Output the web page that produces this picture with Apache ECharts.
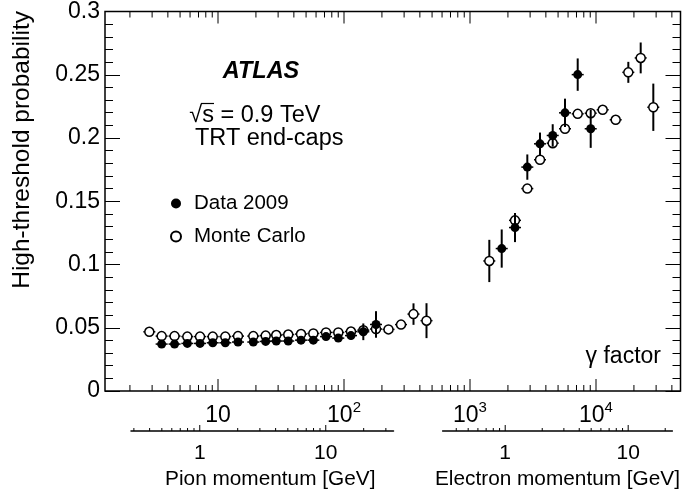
<!DOCTYPE html>
<html><head><meta charset="utf-8">
<script src="https://cdn.jsdelivr.net/npm/echarts@6/dist/echarts.min.js"></script>
<style>html,body{margin:0;padding:0;background:#fff}#c{width:682px;height:492px}</style>
</head><body><div id="c"></div>
<script>
const FONT = '"Liberation Sans", Arial, Helvetica, sans-serif';

// ---- Data 2009 (filled markers) ----
const dataGamma = [3.57, 4.52, 5.71, 7.20, 9.08, 11.43, 14.41, 19.06, 23.9, 29.0, 36.1, 45.6, 57.1, 72.0, 90.1, 113.6, 142.3, 179.5,
                   1785, 2276, 2850, 3594, 4533, 5675, 7157, 9077];
const dataProb  = [0.0371, 0.0371, 0.0376, 0.0376, 0.0381, 0.0381, 0.0387, 0.0387, 0.0392, 0.0395, 0.0395, 0.0402, 0.0402, 0.0430, 0.0418, 0.0438, 0.0468, 0.0526,
                   0.1126, 0.1292, 0.1770, 0.1954, 0.2020, 0.2199, 0.2501, 0.2073];
const dataErr   = [0.0012, 0.0012, 0.0012, 0.0012, 0.0012, 0.0012, 0.0012, 0.0012, 0.0013, 0.0013, 0.0014, 0.0015, 0.0016, 0.0018, 0.0020, 0.0030, 0.0066, 0.0105,
                   0.0151, 0.0115, 0.0100, 0.0089, 0.0089, 0.0112, 0.0128, 0.0151];

// ---- Monte Carlo (open markers) ----
const mcGamma = [2.85, 3.57, 4.52, 5.71, 7.20, 9.08, 11.43, 14.41, 19.06, 23.9, 29.0, 36.1, 45.6, 57.1, 72.0, 90.1, 113.6, 142.3, 179.5, 225.5, 283.5, 356.1, 451.6,
                 1423, 2276, 2850, 3594, 4533, 5675, 7157, 9077, 11300, 14330, 18050, 22630, 28500];
const mcProb  = [0.0468, 0.0434, 0.0434, 0.0430, 0.0430, 0.0430, 0.0430, 0.0434, 0.0434, 0.0438, 0.0442, 0.0446, 0.0450, 0.0455, 0.0463, 0.0463, 0.0470, 0.0481, 0.0490, 0.0487, 0.0525, 0.0608, 0.0556,
                 0.1028, 0.1349, 0.1600, 0.1828, 0.1959, 0.2073, 0.2191, 0.2196, 0.2223, 0.2144, 0.2519, 0.2633, 0.2243];
const mcErr   = [0.0008, 0.0008, 0.0008, 0.0008, 0.0008, 0.0008, 0.0008, 0.0008, 0.0008, 0.0008, 0.0008, 0.0009, 0.0010, 0.0010, 0.0012, 0.0013, 0.0015, 0.0018, 0.0020, 0.0025, 0.0030, 0.0085, 0.0138,
                 0.0167, 0.0040, 0.0030, 0.0030, 0.0030, 0.0030, 0.0030, 0.0030, 0.0030, 0.0036, 0.0083, 0.0122, 0.0187];

// ---- axis ticks / labels ----
const gammaMajor = [10, 100, 1000, 10000];
const gammaMajorLabels = ['10', '10{s|2}', '10{s|3}', '10{s|4}'];
const gammaMinor = [2,3,4,5,6,7,8,9, 20,30,40,50,60,70,80,90, 200,300,400,500,600,700,800,900,
                    2000,3000,4000,5000,6000,7000,8000,9000, 20000,30000,40000];
const pionMajor = [1, 10];
const pionMajorLabels = ['1', '10'];
const pionMinor = [0.3,0.4,0.5,0.6,0.7,0.8,0.9, 2,3,4,5,6,7,8,9, 20,30];
const elecMajor = [1, 10];
const elecMajorLabels = ['1', '10'];
const elecMinor = [0.4,0.5,0.6,0.7,0.8,0.9, 2,3,4,5,6,7,8,9, 20];

const yMin = 0, yMax = 0.3;

function errSeries(gam, val, err, z) {
  return {
    type: 'custom', xAxisIndex: 0, yAxisIndex: 0, z: z, silent: true,
    encode: {x: 0, y: 1},
    data: gam.map((g, i) => [g, val[i], err[i]]),
    renderItem: function (params, api) {
      const g = api.value(0), v = api.value(1), e = api.value(2);
      const p = api.coord([g, v]);
      const t = api.coord([g, v + e]);
      const b = api.coord([g, v - e]);
      return {type: 'group', children: [
        {type: 'line', shape: {x1: p[0], y1: t[1], x2: p[0], y2: b[1]}, style: {stroke: '#000', lineWidth: 2}},
        {type: 'line', shape: {x1: p[0] - 6, y1: p[1], x2: p[0] + 6, y2: p[1]}, style: {stroke: '#000', lineWidth: 1.5}}
      ]};
    }
  };
}

function mainTickSeries() {
  const data = gammaMajor.map(g => [g, 1]).concat(gammaMinor.map(g => [g, 0]));
  return {
    type: 'custom', xAxisIndex: 0, yAxisIndex: 0, z: 10, silent: true,
    encode: {x: 0, y: 1},
    data: data,
    renderItem: function (params, api) {
      const g = api.value(0), major = api.value(1);
      const b = api.coord([g, yMin]);
      const t = api.coord([g, yMax]);
      const len = major ? 12 : 6;
      return {type: 'group', children: [
        {type: 'line', shape: {x1: b[0], y1: b[1], x2: b[0], y2: b[1] - len}, style: {stroke: '#000', lineWidth: 1}},
        {type: 'line', shape: {x1: t[0], y1: t[1], x2: t[0], y2: t[1] + len}, style: {stroke: '#000', lineWidth: 1}}
      ]};
    }
  };
}

function mainLabelSeries() {
  return {
    type: 'custom', xAxisIndex: 0, yAxisIndex: 0, z: 10, silent: true,
    encode: {x: 0, y: 1},
    data: gammaMajor.map(g => [g, yMin]),
    renderItem: function (params, api) {
      const b = api.coord([api.value(0), yMin]);
      return {type: 'text', x: b[0], y: b[1] + 25, style: {
        text: gammaMajorLabels[params.dataIndex], align: 'center', verticalAlign: 'middle', fill: '#000',
        rich: {
          s: {fontFamily: FONT, fontSize: 15, lineHeight: 10, verticalAlign: 'top', fill: '#000'}
        },
        fontFamily: FONT, fontSize: 23, lineHeight: 32
      }};
    }
  };
}

function secTickSeries(xi, yi, major, minor, labels) {
  const data = major.map(v => [v, 1]).concat(minor.map(v => [v, 0]));
  return {
    type: 'custom', xAxisIndex: xi, yAxisIndex: yi, z: 10, silent: true,
    encode: {x: 0, y: 1},
    data: data,
    renderItem: function (params, api) {
      const v = api.value(0), isMajor = api.value(1);
      const b = api.coord([v, 0]);
      const len = isMajor ? 6 : 3;
      const ch = [{type: 'line', shape: {x1: b[0], y1: b[1], x2: b[0], y2: b[1] - len}, style: {stroke: '#000', lineWidth: 1}}];
      if (isMajor) {
        ch.push({type: 'text', x: b[0], y: b[1] + 22, style: {
          text: labels[params.dataIndex], align: 'center', verticalAlign: 'middle', fill: '#000',
          fontFamily: FONT, fontSize: 21
        }});
      }
      return {type: 'group', children: ch};
    }
  };
}

const chart = echarts.init(document.getElementById('c'), null, {renderer: 'canvas'});
chart.setOption({
  animation: false,
  backgroundColor: '#fff',
  grid: [
    {left: 105, top: 11, width: 575.5, height: 380, show: true, borderColor: '#000', borderWidth: 1.5, backgroundColor: 'transparent'},
    {left: 131, top: 421, width: 262.5, height: 10, show: false},
    {left: 442.6, top: 421, width: 235.4, height: 10, show: false}
  ],
  xAxis: [
    {gridIndex: 0, type: 'log', logBase: 10, min: 1.268, max: 46840,
     axisLine: {show: false}, axisTick: {show: false}, axisLabel: {show: false}, splitLine: {show: false}},
    {gridIndex: 1, type: 'log', logBase: 10, min: 0.2846, max: 34.49,
     axisLine: {show: true, onZero: false, lineStyle: {color: '#000', width: 1.5}},
     axisTick: {show: false}, axisLabel: {show: false}, splitLine: {show: false},
     name: 'Pion momentum [GeV]', nameLocation: 'middle', nameGap: 38,
     nameTextStyle: {fontFamily: FONT, fontSize: 20.8, color: '#000', padding: [0, 0, 0, 16]}},
    {gridIndex: 2, type: 'log', logBase: 10, min: 0.3097, max: 22.87,
     axisLine: {show: true, onZero: false, lineStyle: {color: '#000', width: 1.5}},
     axisTick: {show: false}, axisLabel: {show: false}, splitLine: {show: false},
     name: 'Electron momentum [GeV]', nameLocation: 'middle', nameGap: 38,
     nameTextStyle: {fontFamily: FONT, fontSize: 20.8, color: '#000', padding: [0, 0, 0, 0]}}
  ],
  yAxis: [
    {gridIndex: 0, type: 'value', min: yMin, max: yMax, interval: 0.05,
     axisLine: {show: false},
     axisTick: {show: true, inside: true, length: 15, lineStyle: {color: '#000', width: 1}},
     minorTick: {show: true, splitNumber: 5, length: 8, lineStyle: {color: '#000', width: 1}},
     axisLabel: {show: true, margin: 5, color: '#000', fontFamily: FONT, fontSize: 23,
                 formatter: v => String(+(+v).toFixed(2))},
     splitLine: {show: false}, minorSplitLine: {show: false}},
    {gridIndex: 0, type: 'value', position: 'right', min: yMin, max: yMax, interval: 0.05,
     axisLine: {show: false},
     axisTick: {show: true, inside: true, length: 15, lineStyle: {color: '#000', width: 1}},
     minorTick: {show: true, splitNumber: 5, length: 8, lineStyle: {color: '#000', width: 1}},
     axisLabel: {show: false}, splitLine: {show: false}},
    {gridIndex: 1, type: 'value', min: 0, max: 1, show: false},
    {gridIndex: 2, type: 'value', min: 0, max: 1, show: false}
  ],
  legend: {
    data: ['Data 2009', 'Monte Carlo'], orient: 'vertical', left: 170, top: 193,
    itemWidth: 10, itemHeight: 10, itemGap: 12, icon: 'circle', padding: 0, selectedMode: false,
    textStyle: {fontFamily: FONT, fontSize: 20.5, color: '#000', padding: [0, 0, 0, 8]}
  },
  graphic: [
    {type: 'text', x: 22, y: 11, rotation: Math.PI / 2, style: {
      text: 'High-threshold probability', fontFamily: FONT, fontSize: 24.5, fill: '#000',
      align: 'right', verticalAlign: 'middle'}},
    {type: 'text', x: 222.7, y: 72, style: {
      text: 'ATLAS', fontFamily: FONT, fontSize: 23.5, fontWeight: 'bold', fontStyle: 'italic', fill: '#000',
      align: 'left', verticalAlign: 'middle'}},
    {type: 'text', x: 189.3, y: 116, style: {
      text: '\u221As = 0.9 TeV', fontFamily: FONT, fontSize: 23.5, fill: '#000',
      align: 'left', verticalAlign: 'middle'}},
    {type: 'line', shape: {x1: 201, y1: 103.5, x2: 214, y2: 103.5}, style: {stroke: '#000', lineWidth: 1.2}},
    {type: 'text', x: 195, y: 139, style: {
      text: 'TRT end-caps', fontFamily: FONT, fontSize: 23.5, fill: '#000',
      align: 'left', verticalAlign: 'middle'}},
    {type: 'text', x: 661, y: 357, style: {
      text: '\u03B3 factor', fontFamily: FONT, fontSize: 23, fill: '#000',
      align: 'right', verticalAlign: 'middle'}}
  ],
  series: [
    errSeries(mcGamma, mcProb, mcErr, 3),
    {type: 'scatter', name: 'Monte Carlo', xAxisIndex: 0, yAxisIndex: 0, z: 4,
     data: mcGamma.map((g, i) => [g, mcProb[i]]), symbol: 'circle', symbolSize: 9,
     itemStyle: {color: '#fff', borderColor: '#000', borderWidth: 1.5, opacity: 1}},
    errSeries(dataGamma, dataProb, dataErr, 5),
    {type: 'scatter', name: 'Data 2009', xAxisIndex: 0, yAxisIndex: 0, z: 6,
     data: dataGamma.map((g, i) => [g, dataProb[i]]), symbol: 'circle', symbolSize: 9,
     itemStyle: {color: '#000', borderColor: '#000', borderWidth: 0, opacity: 1}},
    mainTickSeries(),
    mainLabelSeries(),
    secTickSeries(1, 2, pionMajor, pionMinor, pionMajorLabels),
    secTickSeries(2, 3, elecMajor, elecMinor, elecMajorLabels)
  ]
});
</script>
</body></html>
